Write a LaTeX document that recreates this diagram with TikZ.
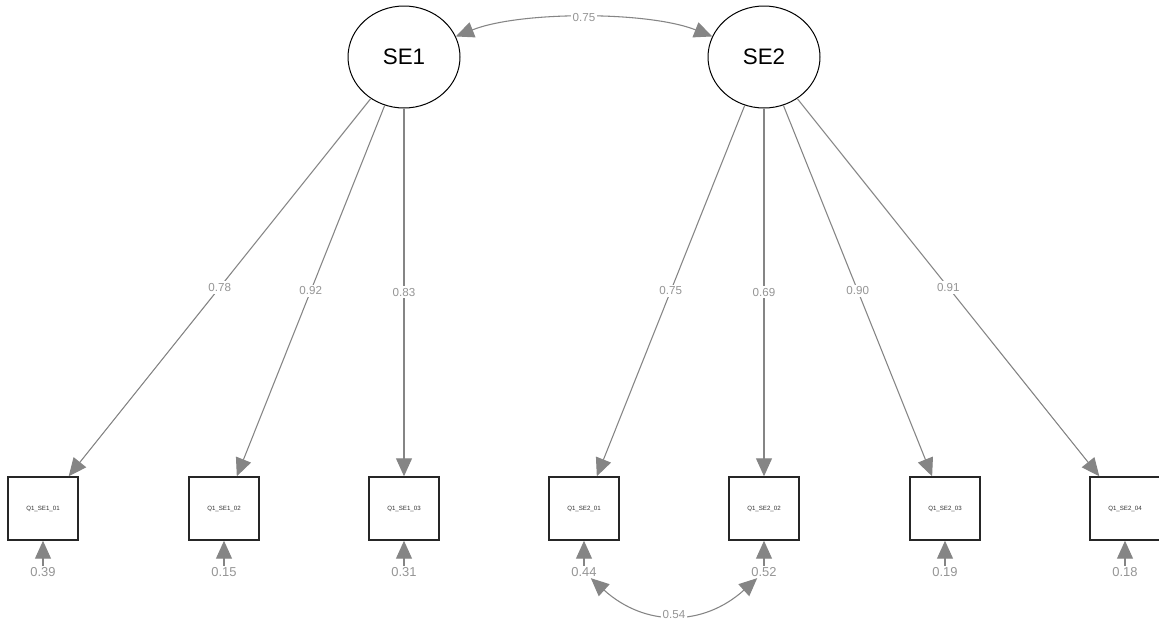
\documentclass[tikz,border=0pt]{standalone}
\usepackage{fontspec}
\setmainfont{Liberation Sans}
\usetikzlibrary{arrows.meta,shapes.geometric}
\definecolor{edgegray}{HTML}{858585}
\definecolor{labgray}{HTML}{959595}
\begin{document}
\begin{tikzpicture}[x=0.75pt,y=-0.75pt,
  latent/.style={ellipse,draw=black,line width=0.75pt,minimum width=84pt,minimum height=76.5pt,inner sep=0pt,font=\fontsize{16.8}{18}\selectfont},
  manifest/.style={rectangle,draw=black!85,line width=1.1pt,minimum width=52.5pt,minimum height=47.25pt,inner sep=0pt,font=\fontsize{4.6}{5}\selectfont,text=black!80},
  loadarrow/.style={draw=edgegray,line width=0.8pt,-{Triangle[length=13.5pt,width=12pt]}},
  covarrow/.style={draw=edgegray,line width=0.8pt,{Triangle[length=13.5pt,width=12pt]}-{Triangle[length=13.5pt,width=12pt]}},
  edgelabel/.style={fill=white,text=labgray,inner sep=1.5pt,font=\fontsize{8.7}{10}\selectfont},
  reslabel/.style={text=labgray,inner sep=1pt,font=\fontsize{9.7}{11}\selectfont}
]
\useasboundingbox[fill=white] (0,0) rectangle (1159,625);

% latent variables
\node[latent] (SE1) at (404,57) {SE1};
\node[latent] (SE2) at (764,57) {SE2};

% manifest variables
\node[manifest] (b1) at (43,508.5) {Q1\_SE1\_01};
\node[manifest] (b2) at (224,508.5) {Q1\_SE1\_02};
\node[manifest] (b3) at (404,508.5) {Q1\_SE1\_03};
\node[manifest] (b4) at (584,508.5) {Q1\_SE2\_01};
\node[manifest] (b5) at (764,508.5) {Q1\_SE2\_02};
\node[manifest] (b6) at (945,508.5) {Q1\_SE2\_03};
\node[manifest] (b7) at (1125,508.5) {Q1\_SE2\_04};

% residual labels
\node[reslabel] (r1) at (43,572) {0.39};
\node[reslabel] (r2) at (224,572) {0.15};
\node[reslabel] (r3) at (404,572) {0.31};
\node[reslabel] (r4) at (584,572) {0.44};
\node[reslabel] (r5) at (764,572) {0.52};
\node[reslabel] (r6) at (945,572) {0.19};
\node[reslabel] (r7) at (1125,572) {0.18};

% loadings
\draw[loadarrow] (SE1) -- node[edgelabel] {0.78} (b1);
\draw[loadarrow] (SE1) -- node[edgelabel] {0.92} (b2);
\draw[loadarrow] (SE1) -- node[edgelabel] {0.83} (b3);
\draw[loadarrow] (SE2) -- node[edgelabel] {0.75} (b4);
\draw[loadarrow] (SE2) -- node[edgelabel] {0.69} (b5);
\draw[loadarrow] (SE2) -- node[edgelabel] {0.90} (b6);
\draw[loadarrow] (SE2) -- node[edgelabel] {0.91} (b7);

% residual arrows
\foreach \i in {1,...,7}{
  \draw[loadarrow] (r\i) -- (b\i);
}

% covariances
\draw[covarrow] (SE1) .. controls (520,11) and (648,11) .. node[edgelabel] {0.75} (SE2);
\draw[covarrow] (r4) .. controls (645,627) and (703,627) .. node[edgelabel] {0.54} (r5);
\end{tikzpicture}
\end{document}
